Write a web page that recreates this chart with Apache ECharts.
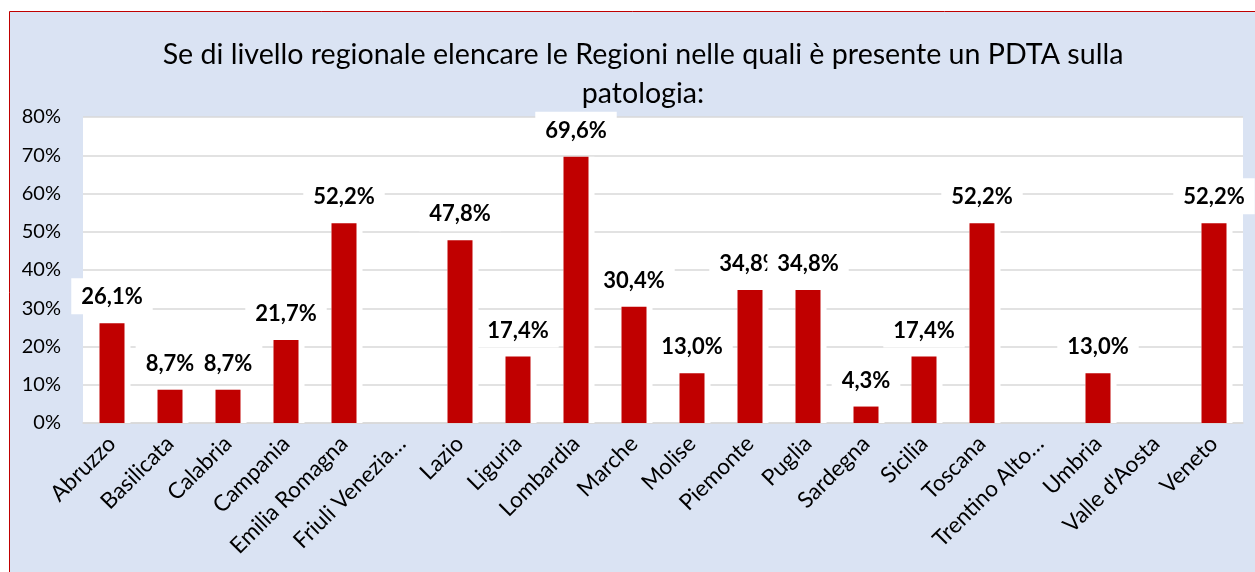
<!DOCTYPE html>
<html>
<head>
<meta charset="utf-8">
<script src="https://cdn.jsdelivr.net/npm/echarts@6/dist/echarts.min.js"></script>
<style>
  html, body { margin: 0; padding: 0; background: #fff; }
  #main { width: 1255px; height: 572px; }
</style>
</head>
<body>
<div id="main"></div>
<script>
// regioni (come nel grafico originale, nomi troncati inclusi)
var regioni = ['Abruzzo', 'Basilicata', 'Calabria', 'Campania', 'Emilia Romagna', 'Friuli Venezia\u2026',
  'Lazio', 'Liguria', 'Lombardia', 'Marche', 'Molise', 'Piemonte', 'Puglia', 'Sardegna', 'Sicilia',
  'Toscana', 'Trentino Alto\u2026', 'Umbria', "Valle d'Aosta", 'Veneto'];
// percentuali
var percentuali = [26.1, 8.7, 8.7, 21.7, 52.2, 0, 47.8, 17.4, 69.6, 30.4, 13.0, 34.8, 34.8, 4.3, 17.4,
  52.2, 0, 13.0, 0, 52.2];
var titolo = 'Se di livello regionale elencare le Regioni nelle quali è presente un PDTA sulla\npatologia:';

var myChart = echarts.init(document.getElementById('main'));

function etichetta(p) {
  if (!p.value) return '';
  return p.value.toFixed(1).replace('.', ',') + '%';
}

var option = {
  backgroundColor: '#fff',
  textStyle: { fontFamily: 'Lato' },
  graphic: [{
    type: 'rect',
    z: -10,
    silent: true,
    shape: { x: 9.5, y: 11.5, width: 1300, height: 620 },
    style: { fill: '#DAE3F3', stroke: '#C00000', lineWidth: 1 }
  }],
  title: {
    text: titolo,
    left: 638,
    textAlign: 'center',
    top: 30,
    textStyle: { fontFamily: 'Lato', fontSize: 28.6, fontWeight: 'normal', color: '#000', lineHeight: 39 }
  },
  grid: {
    left: 83, right: 12, top: 117, bottom: 149,
    show: true, backgroundColor: '#fff', borderWidth: 0
  },
  xAxis: {
    type: 'category',
    data: regioni,
    axisTick: { show: false },
    axisLine: { lineStyle: { color: '#D9D9D9', width: 1.5 } },
    axisLabel: { interval: 0, rotate: 45, fontSize: 22.5, color: '#000', margin: 17, fontFamily: 'Lato' }
  },
  yAxis: {
    type: 'value',
    min: 0, max: 80, interval: 10,
    axisLabel: { formatter: '{value}%', fontSize: 20, color: '#000', margin: 22, fontFamily: 'Lato' },
    splitLine: { lineStyle: { color: '#D9D9D9', width: 1.5 } },
    axisLine: { show: false },
    axisTick: { show: false }
  },
  series: [{
    // contorno bianco attorno alle barre
    type: 'bar',
    data: percentuali,
    barWidth: 31,
    silent: true,
    z: 2,
    itemStyle: { color: '#fff' }
  }, {
    type: 'bar',
    data: percentuali,
    barWidth: 25,
    barGap: '-100%',
    z: 3,
    itemStyle: { color: '#C00000' },
    label: {
      show: true,
      position: 'top',
      distance: 9,
      backgroundColor: '#fff',
      padding: [8, 10, 6, 10],
      fontSize: 22,
      fontWeight: 'bold',
      color: '#000',
      fontFamily: 'Lato',
      formatter: etichetta
    }
  }]
};

myChart.setOption(option);
</script>
</body>
</html>
